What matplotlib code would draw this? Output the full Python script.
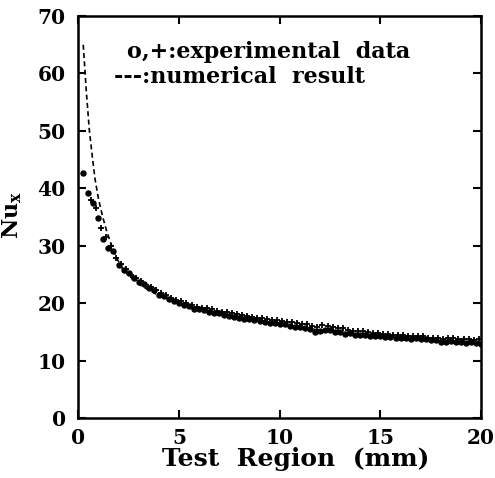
import matplotlib
matplotlib.use('Agg')
import matplotlib.pyplot as plt
import numpy as np

# numerical result (dashed line)
x_num = [0.25, 0.4, 0.55, 0.7, 0.84, 1.0, 1.1, 1.25, 1.4, 1.6, 1.9, 2.2, 2.5, 3.0,
         4.0, 5.0, 6.0, 7.0, 8.0, 10.0, 12.0, 14.0, 16.0, 18.0, 20.0]
nu_num = [65.0, 57.0, 50.2, 45.5, 41.5, 38.3, 36.7, 34.6, 32.7, 30.6, 27.9, 26.0, 24.8, 23.3,
          21.3, 20.0, 19.0, 18.3, 17.6, 16.3, 15.3, 14.6, 14.0, 13.4, 12.9]

# experimental data, circles (x = 0.25, 0.5, ... 20)
nu_circle = [42.7, 39.2, 37.4, 34.8, 31.2, 29.6, 29.0, 26.6, 25.8, 25.2,
             24.3, 23.7, 23.4, 22.6, 22.3, 21.5, 21.3, 20.7, 20.4, 20.1,
             19.6, 19.5, 19.0, 18.9, 18.8, 18.5, 18.3, 18.2, 17.9, 17.8,
             17.6, 17.4, 17.3, 17.2, 17.0, 16.9, 16.8, 16.6, 16.5, 16.3,
             16.3, 16.1, 15.9, 15.9, 15.6, 15.5, 15.0, 15.2, 15.4, 15.3,
             15.0, 14.9, 14.7, 14.8, 14.4, 14.5, 14.4, 14.3, 14.3, 14.2,
             14.1, 14.1, 14.0, 13.9, 13.9, 13.8, 13.9, 13.7, 13.7, 13.6,
             13.5, 13.3, 13.3, 13.4, 13.2, 13.3, 13.1, 13.2, 13.0, 12.9]
# experimental data, pluses (x = 0.625, 0.875, ... 19.875)
nu_plus = [38.0, 36.5, 33.0, 31.5, 30.0, 27.8, 26.8, 25.9, 24.9, 24.4,
           23.8, 23.2, 22.8, 22.3, 21.8, 21.4, 20.9, 20.6, 20.3, 20.0,
           19.7, 19.4, 19.2, 19.1, 18.9, 18.7, 18.5, 18.4, 18.2, 18.1,
           17.9, 17.8, 17.6, 17.5, 17.4, 17.2, 17.1, 17.0, 16.9, 16.8,
           16.7, 16.5, 16.4, 16.3, 16.0, 15.8, 16.2, 16.1, 15.9, 15.7,
           15.6, 15.4, 15.2, 15.2, 15.1, 15.0, 14.8, 14.8, 14.7, 14.6,
           14.5, 14.5, 14.4, 14.3, 14.3, 14.2, 14.2, 14.0, 14.0, 13.9,
           13.8, 13.9, 14.0, 13.8, 13.7, 13.8, 13.6, 13.7]

x_circle = 0.25 * np.arange(1, len(nu_circle) + 1)
x_plus = 0.625 + 0.25 * np.arange(len(nu_plus))

plt.rcParams['font.family'] = 'DejaVu Serif'
plt.rcParams['font.weight'] = 'bold'
plt.rcParams['mathtext.fontset'] = 'dejavuserif'

fig = plt.figure(figsize=(4.95, 4.78), dpi=100)
ax = fig.add_axes([0.158, 0.1255, 0.814, 0.841])

ax.plot(x_num, nu_num, color='black', linestyle=(0, (3, 2)), linewidth=1.2)
ax.plot(x_circle, nu_circle, linestyle='none', marker='o', markersize=3.6,
        color='black')
ax.plot(x_plus, nu_plus, linestyle='none', marker='+', markersize=4.5,
        markeredgewidth=1.3, color='black')

ax.set_xlim(0, 20)
ax.set_ylim(0, 70)
ax.set_xticks([0, 5, 10, 15, 20])
ax.set_yticks(range(0, 71, 10))
ax.tick_params(direction='in', top=True, right=True, length=6, width=1.5,
               labelsize=14.5)
ax.tick_params(axis='x', pad=7)
ax.tick_params(axis='y', pad=9)
for lab in ax.get_xticklabels() + ax.get_yticklabels():
    lab.set_fontweight('bold')
for sp in ax.spines.values():
    sp.set_linewidth(1.8)

# axis titles placed by hand so they sit like the original
ax.text(0.54, -0.119, 'Test  Region  (mm)', transform=ax.transAxes,
        fontsize=18, fontweight='bold', ha='center', va='baseline')
ax.set_ylabel(r'$\mathbf{Nu_x}$', fontsize=16)
ax.yaxis.set_label_coords(-0.135, 0.505)

ax.text(2.4, 63.8, 'o,+:experimental  data', fontsize=16, fontweight='bold',
        va='center', ha='left')
ax.text(1.8, 59.3, '---:numerical  result', fontsize=16, fontweight='bold',
        va='center', ha='left')

fig.savefig('out.png', dpi=100)
